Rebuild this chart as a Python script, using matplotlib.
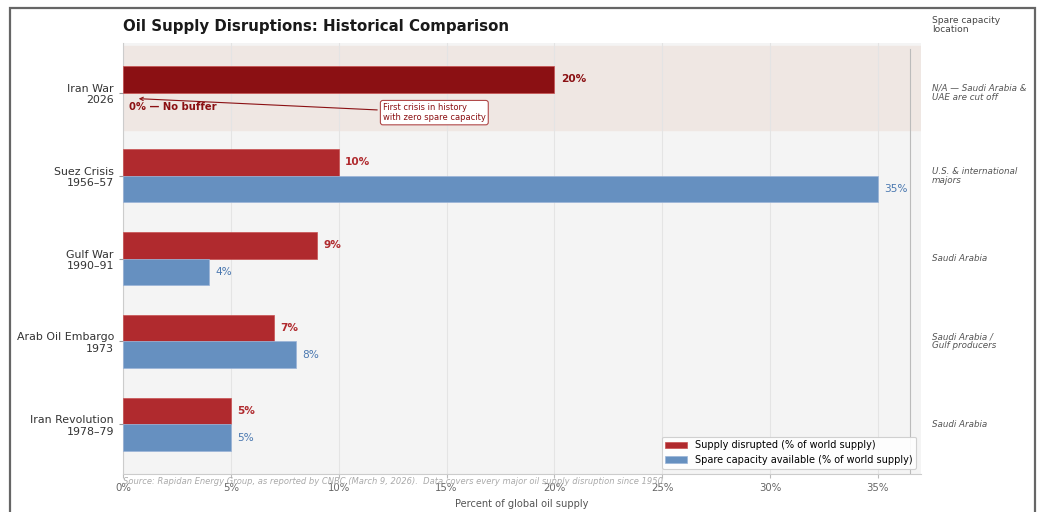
import numpy as np
import matplotlib.pyplot as plt
from matplotlib.patches import Rectangle, Patch

# Oil supply disruptions vs. spare capacity
events = ["Iran War\n2026", "Suez Crisis\n1956–57", "Gulf War\n1990–91",
          "Arab Oil Embargo\n1973", "Iran Revolution\n1978–79"]
disrupted = [20, 10, 9, 7, 5]
spare = [0, 35, 4, 8, 5]
locations = ["N/A — Saudi Arabia &\nUAE are cut off",
             "U.S. & international\nmajors",
             "Saudi Arabia",
             "Saudi Arabia /\nGulf producers",
             "Saudi Arabia"]

red = "#b02a2e"
dark_red = "#8b1013"
blue = "#6690c0"
blue_text = "#4a78b0"

fig = plt.figure(figsize=(10.37, 5.12), dpi=100)
ax = fig.add_axes([123 / 1037, 38 / 512, 798 / 1037, 431 / 512])
ax.set_facecolor("#f4f4f4")

y = np.arange(len(events))
h = 0.32

# highlight the current crisis row
ax.axhspan(-0.56, 0.45, color="#efe7e3", zorder=0)

red_colors = [dark_red] + [red] * (len(events) - 1)
ax.barh(y - h / 2, disrupted, height=h, color=red_colors, edgecolor="#c85050",
        linewidth=0.5, zorder=3)
spare_y = [v for v, s in zip(y, spare) if s > 0]
spare_v = [s for s in spare if s > 0]
ax.barh(np.array(spare_y) + h / 2, spare_v, height=h, color=blue,
        edgecolor="#9ab4d8", linewidth=0.5, zorder=3)

for i, v in enumerate(disrupted):
    c = dark_red if i == 0 else red
    ax.text(v + 0.3, i - h / 2, f"{v}%", va="center", ha="left",
            fontsize=7.6, fontweight="bold", color=c, zorder=4)
for i, v in zip(spare_y, spare_v):
    ax.text(v + 0.3, i + h / 2, f"{v}%", va="center", ha="left",
            fontsize=7.6, color=blue_text, zorder=4)

ax.text(0.3, 0.17, "0% — No buffer", va="center", ha="left",
        fontsize=7.2, fontweight="bold", color=dark_red, zorder=4)
ax.annotate("First crisis in history\nwith zero spare capacity",
            xy=(0.6, 0.07), xytext=(12.05, 0.24),
            fontsize=6.0, color=dark_red, va="center", ha="left",
            bbox=dict(boxstyle="round,pad=0.3", fc="white", ec="#b04848", lw=0.8),
            arrowprops=dict(arrowstyle="->", color=dark_red, lw=0.8),
            zorder=5)

ax.axvline(36.5, ymin=0, ymax=0.985, color="#bbbbbb", lw=0.8, zorder=1)

ax.set_xlim(0, 37)
ax.set_ylim(4.6, -0.6)
ax.set_yticks(y)
ax.set_yticklabels(events, fontsize=7.9, color="#333333")
ax.set_xticks(np.arange(0, 36, 5))
ax.set_xticklabels([f"{t}%" for t in range(0, 36, 5)], fontsize=7.3, color="#666666")
ax.tick_params(axis="y", length=3, color="#999999")
ax.tick_params(axis="x", length=3, color="#bbbbbb")
ax.grid(axis="x", color="#e4e4e4", lw=0.8, zorder=0)
ax.set_axisbelow(True)
for s in ["top", "right"]:
    ax.spines[s].set_visible(False)
ax.spines["left"].set_color("#cccccc")
ax.spines["bottom"].set_color("#cccccc")

ax.set_xlabel("Percent of global oil supply", fontsize=7.1, color="#555555", labelpad=4)
ax.set_title("Oil Supply Disruptions: Historical Comparison", loc="left",
             fontsize=10.8, fontweight="bold", color="#1a1a1a", pad=9)

handles = [Patch(facecolor=red, edgecolor="#c85050", lw=0.5),
           Patch(facecolor=blue, edgecolor="#9ab4d8", lw=0.5)]
leg = ax.legend(handles, ["Supply disrupted (% of world supply)",
                          "Spare capacity available (% of world supply)"],
                loc="lower right", fontsize=7.0, frameon=True, framealpha=0.9,
                edgecolor="#cccccc", handlelength=2.2)
leg.get_frame().set_linewidth(0.8)

# right-hand column with spare capacity location
fig.text(932 / 1037, 1 - 25 / 512, "Spare capacity\nlocation", fontsize=6.6,
         color="#444444", va="center", ha="left", linespacing=1.0)
for i, loc in enumerate(locations):
    ty = ax.transData.transform((0, i))[1]
    fig.text(932 / 1037, ty / fig.bbox.height, loc, fontsize=6.3,
             style="italic", color="#555555", va="center", ha="left",
             linespacing=1.0)

fig.text(123 / 1037, 1 - 482 / 512,
         "Source: Rapidan Energy Group, as reported by CNBC (March 9, 2026).  "
         "Data covers every major oil supply disruption since 1950.",
         fontsize=6.0, style="italic", color="#aaaaaa", va="center", ha="left")

# outer frame
fig.patches.append(Rectangle((10 / 1037, -0.05), (1035 - 10) / 1037, 1.05 - 8 / 512,
                             transform=fig.transFigure, fill=False,
                             edgecolor="#666666", lw=1.6))

fig.savefig("out.png", dpi=100)
